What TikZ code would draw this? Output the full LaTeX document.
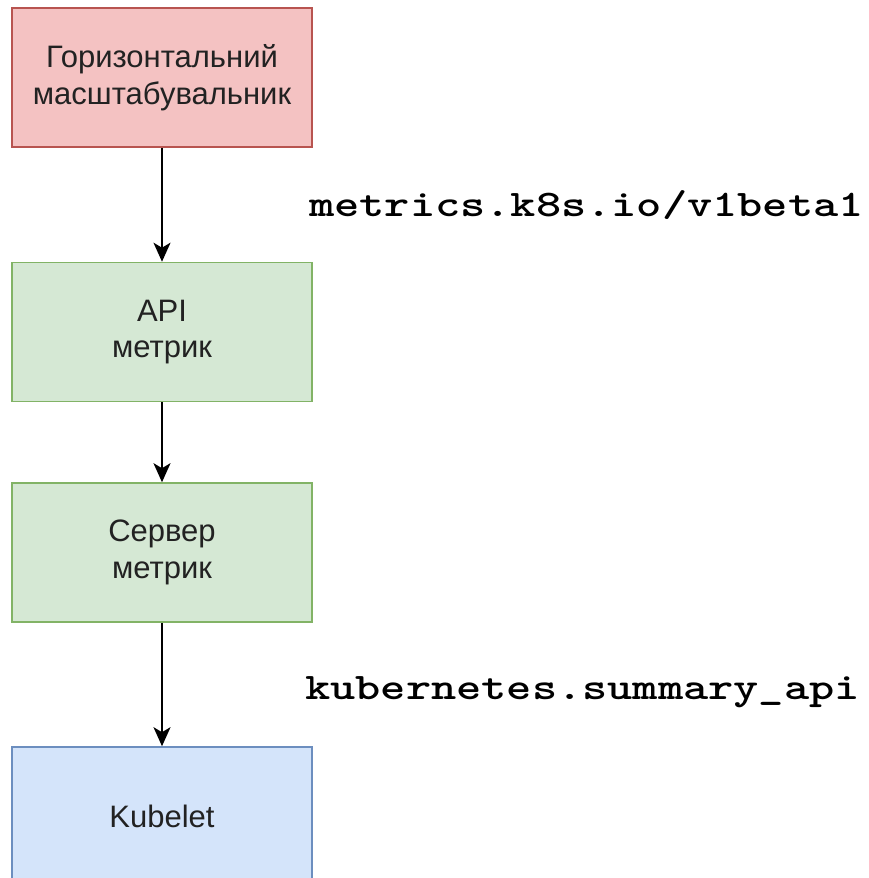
\documentclass[tikz,border=0pt]{standalone}
\usepackage{fontspec}
\usepackage{graphicx}
\setmainfont{Liberation Sans}
\usetikzlibrary{arrows.meta}
\definecolor{redfill}{HTML}{F4C2C2}
\definecolor{redline}{HTML}{B85450}
\definecolor{greenfill}{HTML}{D5E8D4}
\definecolor{greenline}{HTML}{82B366}
\definecolor{bluefill}{HTML}{D4E4FA}
\definecolor{blueline}{HTML}{6C8EBF}
\definecolor{boxtext}{HTML}{222222}
% wide bold typewriter text for the API names
\newcommand{\apiname}[1]{\scalebox{1.28}[1]{\ttfamily\bfseries #1}}
\begin{document}
\begin{tikzpicture}[x=1pt,y=-1pt,
  box/.style={draw, line width=1.6pt, minimum width=300pt, minimum height=139pt,
    inner sep=0pt, align=center, text=boxtext,
    font=\fontsize{31}{36.5}\selectfont},
  redbox/.style={box, fill=redfill, draw=redline},
  greenbox/.style={box, fill=greenfill, draw=greenline},
  bluebox/.style={box, fill=bluefill, draw=blueline},
  flow/.style={line width=2pt, -{Stealth[length=19pt,width=17pt,inset=5pt]}},
  apilabel/.style={anchor=base west, inner sep=0pt,
    font=\fontsize{37.5}{40}\selectfont}]
  \useasboundingbox (0,0) rectangle (869,878);
  \node[redbox]   (hpa)     at (162,77.5)  {Горизонтальний\\масштабувальник};
  \node[greenbox] (api)     at (162,332)   {API\\метрик};
  \node[greenbox] (server)  at (162,552.5) {Сервер\\метрик};
  \node[bluebox]  (kubelet) at (162,816.5) {Kubelet};
  \draw[flow] (hpa) -- (api);
  \draw[flow] (api) -- (server);
  \draw[flow] (server) -- (kubelet);
  \node[apilabel] (metricsapi) at (309,216) {\apiname{metrics.k8s.io/v1beta1}};
  \node[apilabel] (summaryapi) at (305,699) {\apiname{kubernetes.summary\_api}};
\end{tikzpicture}
\end{document}
